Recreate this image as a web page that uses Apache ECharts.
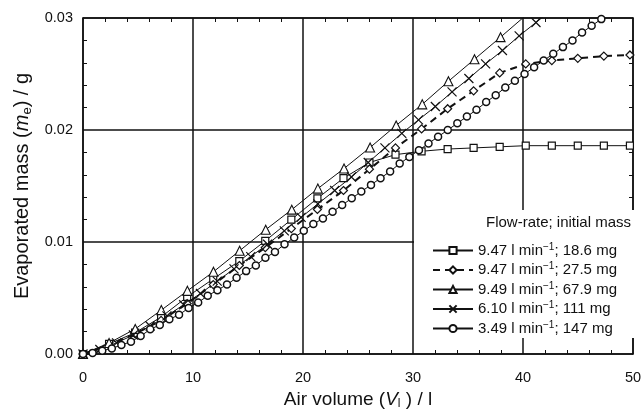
<!DOCTYPE html>
<html>
<head>
<meta charset="utf-8">
<script src="https://cdn.jsdelivr.net/npm/echarts@6/dist/echarts.min.js"></script>
<style>
html,body{margin:0;padding:0;background:#fff;}
#chart{width:644px;height:411px;}
</style>
</head>
<body>
<div id="chart"></div>
<script>
// ---- data ----
var xTicks = [0, 10, 20, 30, 40, 50];
var yTicks = [0.00, 0.01, 0.02, 0.03];

var legendNames = [
  "9.47 l min−1; 18.6 mg",
  "9.47 l min−1; 27.5 mg",
  "9.49 l min−1; 67.9 mg",
  "6.10 l min−1; 111 mg",
  "3.49 l min−1; 147 mg"
];

// 9.47 l/min ; 18.6 mg (squares)
var volSquare = [0, 2.37, 4.74, 7.10, 9.47, 11.84, 14.21, 16.57, 18.94, 21.31, 23.68, 26.04, 28.41, 30.78, 33.15, 35.51, 37.88, 40.25, 42.62, 44.98, 47.35, 49.72];
var massSquare = [0, 0.0009, 0.0019, 0.0033, 0.0051, 0.0067, 0.0083, 0.0101, 0.0120, 0.0139, 0.0157, 0.0171, 0.0178, 0.0181, 0.0183, 0.0184, 0.0185, 0.0186, 0.0186, 0.0186, 0.0186, 0.0186];

// 9.47 l/min ; 27.5 mg (diamonds, dashed)
var volDiamond = [0, 2.37, 4.74, 7.10, 9.47, 11.84, 14.21, 16.57, 18.94, 21.31, 23.68, 26.04, 28.41, 30.78, 33.15, 35.51, 37.88, 40.25, 42.62, 44.98, 47.35, 49.72];
var massDiamond = [0, 0.0008, 0.0018, 0.0030, 0.0045, 0.0062, 0.0079, 0.0095, 0.0112, 0.0129, 0.0146, 0.0165, 0.0184, 0.0201, 0.0219, 0.0235, 0.0251, 0.0259, 0.0262, 0.0264, 0.0266, 0.0267];

// 9.49 l/min ; 67.9 mg (triangles)
var volTriangle = [0, 2.37, 4.75, 7.12, 9.49, 11.86, 14.24, 16.61, 18.98, 21.35, 23.73, 26.10, 28.47, 30.84, 33.22, 35.59, 37.96, 40.33];
var massTriangle = [0, 0.00098, 0.00224, 0.00392, 0.00564, 0.00734, 0.00922, 0.01110, 0.01289, 0.01477, 0.01656, 0.01844, 0.02041, 0.02229, 0.02435, 0.02632, 0.02829, 0.0303];

// 6.10 l/min ; 111 mg (crosses)
var volCross = [0, 1.53, 3.05, 4.58, 6.10, 7.63, 9.15, 10.68, 12.20, 13.73, 15.25, 16.78, 18.30, 19.83, 21.35, 22.88, 24.40, 25.93, 27.45, 28.98, 30.50, 32.03, 33.55, 35.08, 36.60, 38.13, 39.65, 41.18, 42.70];
var massCross = [0, 0.0004, 0.0010, 0.0017, 0.0025, 0.0034, 0.0044, 0.0054, 0.0065, 0.0076, 0.0087, 0.0098, 0.0110, 0.0122, 0.0134, 0.0146, 0.0158, 0.0171, 0.0184, 0.0197, 0.0209, 0.0221, 0.0234, 0.0246, 0.0259, 0.0271, 0.0284, 0.0296, 0.0308];

// 3.49 l/min ; 147 mg (circles)
var volCircle = [0, 0.87, 1.75, 2.62, 3.49, 4.36, 5.24, 6.11, 6.98, 7.85, 8.73, 9.60, 10.47, 11.34, 12.22, 13.09, 13.96, 14.83, 15.71, 16.58, 17.45, 18.32, 19.20, 20.07, 20.94, 21.81, 22.69, 23.56, 24.43, 25.30, 26.18, 27.05, 27.92, 28.79, 29.67, 30.54, 31.41, 32.28, 33.16, 34.03, 34.90, 35.77, 36.65, 37.52, 38.39, 39.26, 40.14, 41.01, 41.88, 42.75, 43.63, 44.50, 45.37, 46.24, 47.12];
var massCircle = [0, 0.0001, 0.0003, 0.0005, 0.0008, 0.0011, 0.0016, 0.0022, 0.0026, 0.0031, 0.0035, 0.0041, 0.0046, 0.0052, 0.0057, 0.0062, 0.0068, 0.0074, 0.0079, 0.0086, 0.0091, 0.0098, 0.0104, 0.0110, 0.0116, 0.0121, 0.0127, 0.0133, 0.0139, 0.0145, 0.0151, 0.0157, 0.0163, 0.0170, 0.0176, 0.0182, 0.0188, 0.0194, 0.0200, 0.0206, 0.0212, 0.0218, 0.0225, 0.0231, 0.0238, 0.0244, 0.0250, 0.0256, 0.0262, 0.0268, 0.0274, 0.0280, 0.0287, 0.0293, 0.0299];

// ---- build ----
function pairs(xs, ys) { return xs.map(function (x, i) { return [x, ys[i]]; }); }

var FONT = "'Liberation Sans', Arial, Helvetica, sans-serif";
var INK = '#111';
var crossPath = 'path://M0,0L10,10M10,0L0,10';

function legendLabel(name) {
  var parts = name.split('−1');
  return parts[0] + '{sup|−1}' + parts[1];
}

function mkSeries(name, xs, ys, symbol, size, dashed, bw) {
  return {
    name: name,
    type: 'line',
    data: pairs(xs, ys),
    symbol: symbol,
    symbolSize: size,
    showAllSymbol: true,
    clip: true,
    z: 3,
    lineStyle: { color: INK, width: dashed ? 2 : 1, type: dashed ? [7, 5] : 'solid' },
    itemStyle: { color: '#fff', borderColor: INK, borderWidth: bw },
    emphasis: { disabled: true },
    animation: false
  };
}

var chart = echarts.init(document.getElementById('chart'), null, { renderer: 'canvas' });

var axisText = { color: INK, fontFamily: FONT, fontSize: 14.5 };

function minor() { return { show: true, splitNumber: 5, length: 4, lineStyle: { color: INK, width: 1 } }; }

var option = {
  backgroundColor: '#fff',
  animation: false,
  grid: { left: 83, right: 11, top: 18, bottom: 57, show: false, containLabel: false, outerBoundsMode: 'none' },
  xAxis: [{
    type: 'value', min: xTicks[0], max: xTicks[xTicks.length - 1], interval: 10,
    position: 'bottom',
    axisLine: { show: true, onZero: false, lineStyle: { color: INK, width: 1.5 } },
    axisTick: { show: false, inside: true },
    minorTick: minor(),
    splitLine: { show: true, lineStyle: { color: INK, width: 1.5 } },
    axisLabel: Object.assign({ margin: 16, formatter: function (v) { return String(v); } }, axisText),
    name: 'Air volume ({i|V}{sub|l} ) / l',
    nameLocation: 'middle',
    nameGap: 35,
    nameTextStyle: {
      color: INK, fontFamily: FONT, fontSize: 19,
      rich: {
        i: { fontStyle: 'italic', fontSize: 19, fontFamily: FONT, color: INK },
        sub: { fontSize: 12, fontFamily: FONT, color: INK, padding: [9, 0, 0, 0] }
      }
    }
  }, {
    type: 'value', min: xTicks[0], max: xTicks[xTicks.length - 1], interval: 10,
    position: 'top',
    axisLine: { show: true, onZero: false, lineStyle: { color: INK, width: 1.5 } },
    axisTick: { show: false, inside: true },
    minorTick: minor(),
    splitLine: { show: false },
    axisLabel: { show: false }
  }],
  yAxis: [{
    type: 'value', min: yTicks[0], max: yTicks[yTicks.length - 1], interval: 0.01,
    position: 'left',
    axisLine: { show: true, onZero: false, lineStyle: { color: INK, width: 1.5 } },
    axisTick: { show: false, inside: true },
    minorTick: minor(),
    splitLine: { show: true, lineStyle: { color: INK, width: 1.5 } },
    axisLabel: Object.assign({ margin: 10, formatter: function (v) { return v.toFixed(2); } }, axisText),
    name: 'Evaporated mass ({i|m}{sub|e}) / g',
    nameLocation: 'middle',
    nameRotate: 90,
    nameGap: 42,
    nameTextStyle: {
      color: INK, fontFamily: FONT, fontSize: 20,
      rich: {
        i: { fontStyle: 'italic', fontSize: 20, fontFamily: FONT, color: INK },
        sub: { fontSize: 13, fontFamily: FONT, color: INK, padding: [9, 0, 0, 0] }
      }
    }
  }, {
    type: 'value', min: yTicks[0], max: yTicks[yTicks.length - 1], interval: 0.01,
    position: 'right',
    axisLine: { show: true, onZero: false, lineStyle: { color: INK, width: 1.5 } },
    axisTick: { show: false, inside: true },
    minorTick: minor(),
    splitLine: { show: false },
    axisLabel: { show: false }
  }],
  graphic: [
    { type: 'rect', z: 50, shape: { x: 414, y: 210, width: 222, height: 128 }, style: { fill: '#fff' }, silent: true },
    { type: 'text', z: 60, left: 486, top: 215, style: { text: 'Flow-rate; initial mass', fill: INK, font: '15px ' + FONT }, silent: true }
  ],
  legend: {
    orient: 'vertical',
    left: 432,
    top: 242,
    padding: 0,
    z: 60,
    itemWidth: 40,
    itemHeight: 9,
    itemGap: 3,
    selectedMode: false,
    data: legendNames,
    formatter: legendLabel,
    textStyle: {
      color: INK, fontFamily: FONT, fontSize: 15, lineHeight: 16,
      rich: { sup: { fontSize: 10, fontFamily: FONT, color: INK, padding: [0, 0, 7, 0] } }
    }
  },
  series: [
    mkSeries(legendNames[0], volSquare, massSquare, 'rect', 7, false, 1.2),
    mkSeries(legendNames[1], volDiamond, massDiamond, 'diamond', 8, true, 1.2),
    mkSeries(legendNames[2], volTriangle, massTriangle, 'triangle', 9, false, 1.1),
    mkSeries(legendNames[3], volCross, massCross, crossPath, 9, false, 1.2),
    mkSeries(legendNames[4], volCircle, massCircle, 'circle', 7, false, 1.5)
  ]
};

chart.setOption(option);
</script>
</body>
</html>
